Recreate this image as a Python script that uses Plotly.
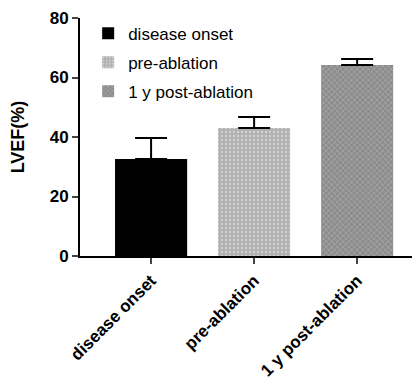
import plotly.graph_objects as go

categories = ["disease onset", "pre-ablation", "1 y post-ablation"]
values = [32.6, 43.0, 64.2]
errors = [7.1, 3.7, 2.0]
tick_vals = [0, 20, 40, 60, 80]

styles = [
    dict(color="black", pattern=None),
    dict(color="#b8b8b8", pattern=dict(shape=".", fgcolor="#f0f0f0", bgcolor="#b0b0b0", size=4, solidity=0.3)),
    dict(color="#9a9a9a", pattern=dict(shape="x", fgcolor="#d0d0d0", bgcolor="#8c8c8c", size=4, solidity=0.3)),
]

fig = go.Figure()
for i, cat in enumerate(categories):
    marker = dict(color=styles[i]["color"], line=dict(width=0))
    if styles[i]["pattern"]:
        marker["pattern"] = styles[i]["pattern"]
    fig.add_trace(go.Bar(
        x=[i], y=[values[i]], name=cat, width=0.7, marker=marker, legendgroup=f"g{i}",
        error_y=dict(type="data", array=[errors[i]], arrayminus=[0], symmetric=False,
                     color="black", thickness=2, width=16),
    ))

# page body has an 8px margin, so the figure is sized to fill the rest of the window
fig.update_layout(
    width=412, height=372,
    margin=dict(l=72, r=0, t=10, b=124),
    plot_bgcolor="white", paper_bgcolor="white",
    barmode="overlay",
    font=dict(family="Liberation Sans, Arial, sans-serif", color="black"),
    showlegend=True,
    legend=dict(x=0.024, y=1.01, xanchor="left", yanchor="top", bgcolor="rgba(0,0,0,0)",
                font=dict(size=17), tracegroupgap=4, itemwidth=30),
    xaxis=dict(
        tickmode="array", tickvals=[0, 1, 2], ticktext=[f"<b>{c}</b>" for c in categories],
        range=[-0.69, 2.61], tickangle=-45, ticks="outside", ticklen=6, tickwidth=2,
        showline=True, linecolor="black", linewidth=2, showgrid=False, zeroline=False,
        tickfont=dict(size=17), automargin=False,
    ),
    yaxis=dict(
        range=[0, 80], tickvals=tick_vals, ticktext=[f"<b>{v}</b>" for v in tick_vals],
        ticks="outside", ticklen=6, tickwidth=2,
        showline=True, linecolor="black", linewidth=2, showgrid=False, zeroline=False,
        tickfont=dict(size=17), automargin=False,
        title=dict(text="<b>LVEF(%)</b>", font=dict(size=18), standoff=20),
    ),
)

fig.write_html("out.html")
